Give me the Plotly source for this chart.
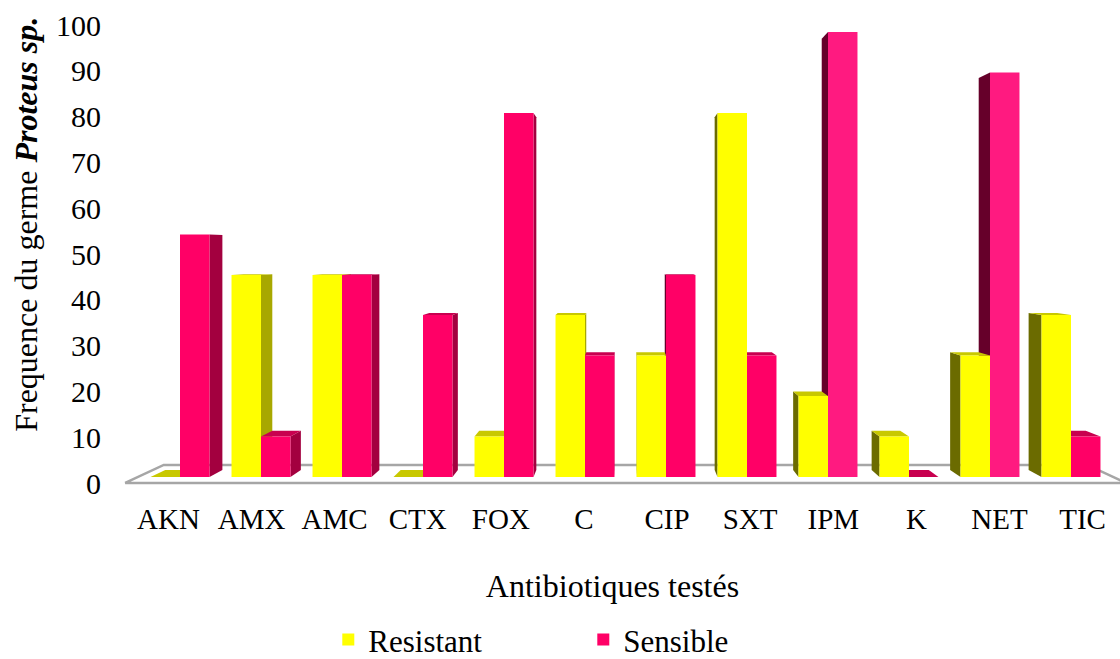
import plotly.graph_objects as go

# Antibiotics tested and frequency (%) of Proteus sp. isolates
antibiotiques = ["AKN", "AMX", "AMC", "CTX", "FOX", "C", "CIP", "SXT", "IPM", "K", "NET", "TIC"]
resistant = [0, 44.4, 44.4, 0, 8.9, 35.6, 26.7, 80.0, 17.8, 8.9, 26.7, 35.6]
sensible = [53.3, 8.9, 44.4, 35.6, 80.0, 26.7, 44.4, 26.7, 97.8, 0, 88.9, 8.9]
y_ticks = list(range(0, 101, 10))

FONT = "Liberation Serif, Times New Roman, serif"

# --- pseudo-3D projection (perspective towards a vanishing point) ---
n = len(antibiotiques)
VX, VY = (n - 1) / 2, 50.0      # vanishing point in data units
BAR_DEPTH = 0.969                # scale of the back face of each bar
FLOOR_FRONT, FLOOR_BACK = 1.026, 0.947
FLOOR_X0, FLOOR_X1 = -0.52, n - 1 + 0.52
BAR_W = 0.364

def proj(x, y, s):
    return VX + s * (x - VX), VY + s * (y - VY)

def path(points):
    return "M " + " L ".join(f"{x:.4f},{y:.4f}" for x, y in points) + " Z"

# face colours: front, right-facing side, left-facing side, top
STYLE = {
    "Resistant": dict(front="#FFFF00", right="#A8A800", left="#6B6B00", top="#C8C800"),
    "Sensible": dict(front="#FF0066", right="#A3003F", left="#66002A", top="#C8004F"),
}
sens_colors = ["#FF0066"] * n
for k in (8, 10):
    sens_colors[k] = "#FF1A80"

shapes = []
# floor
floor = [proj(FLOOR_X0, 0, FLOOR_FRONT), proj(FLOOR_X1, 0, FLOOR_FRONT),
         proj(FLOOR_X1, 0, FLOOR_BACK), proj(FLOOR_X0, 0, FLOOR_BACK)]
shapes.append(dict(type="path", path=path(floor), xref="x", yref="y", layer="below",
                   fillcolor="white", line=dict(color="#A6A6A6", width=2.5)))

# side and top faces, painted from the outside towards the vanishing point
boxes = []
for i in range(n):
    boxes.append((i - BAR_W, i, resistant[i], "Resistant"))
    boxes.append((i, i + BAR_W, sensible[i], "Sensible"))
boxes.sort(key=lambda b: -abs((b[0] + b[1]) / 2 - VX))

for x0, x1, h, name in boxes:
    st = STYLE[name]
    if x1 <= VX:
        side = [(x1, 0), (x1, h), proj(x1, h, BAR_DEPTH), proj(x1, 0, BAR_DEPTH)]
        shapes.append(dict(type="path", path=path(side), xref="x", yref="y", layer="below",
                           fillcolor=st["right"], line=dict(width=0)))
    elif x0 >= VX:
        side = [(x0, 0), (x0, h), proj(x0, h, BAR_DEPTH), proj(x0, 0, BAR_DEPTH)]
        shapes.append(dict(type="path", path=path(side), xref="x", yref="y", layer="below",
                           fillcolor=st["left"], line=dict(width=0)))
    if h < VY:
        top = [(x0, h), (x1, h), proj(x1, h, BAR_DEPTH), proj(x0, h, BAR_DEPTH)]
        shapes.append(dict(type="path", path=path(top), xref="x", yref="y", layer="below",
                           fillcolor=st["top"], line=dict(width=0)))

positions = list(range(n))
fig = go.Figure()
fig.add_trace(go.Bar(name="Resistant", x=positions, y=resistant, width=BAR_W, offset=-BAR_W,
                     marker=dict(color=STYLE["Resistant"]["front"], line=dict(width=0))))
fig.add_trace(go.Bar(name="Sensible", x=positions, y=sensible, width=BAR_W, offset=0,
                     marker=dict(color=sens_colors, line=dict(width=0))))
# helper traces carrying the labelled category / value axes
fig.add_trace(go.Scatter(x=[0], y=[0], xaxis="x2", yaxis="y", mode="markers",
                         marker=dict(opacity=0), showlegend=False, hoverinfo="skip"))
fig.add_trace(go.Scatter(x=[0], y=[0], xaxis="x", yaxis="y2", mode="markers",
                         marker=dict(opacity=0), showlegend=False, hoverinfo="skip"))

# pixel layout of the plotting area
L, R, T, B = 105, 0, 20, 169
W_PX, H_PX = 1120 - L - R, 659 - T - B
PX_X = 81.0      # px per category
PX_Y = 4.55      # px per percent (bar fronts)
x_lo = -(180 - L) / PX_X
x_hi = x_lo + W_PX / PX_X
y_lo = -((659 - B) - 477) / PX_Y
y_hi = y_lo + H_PX / PX_Y
# category labels sit on the front edge of the floor
x2_lo = VX + (x_lo - VX) / FLOOR_FRONT
x2_hi = VX + (x_hi - VX) / FLOOR_FRONT
# value labels
PX_Y2 = 4.58
y2_lo = -((659 - B) - 483) / PX_Y2
y2_hi = y2_lo + H_PX / PX_Y2

fig.update_layout(
    width=1120, height=659,
    margin=dict(l=L, r=R, t=T, b=B, autoexpand=False),
    paper_bgcolor="white", plot_bgcolor="rgba(0,0,0,0)",
    font=dict(family=FONT, color="black", size=30),
    barmode="overlay",
    shapes=shapes,
    showlegend=True,
    legend=dict(orientation="h", x=0.22, xanchor="left", y=-0.319, yanchor="middle",
                font=dict(size=31, family=FONT, color="black"), entrywidth=210,
                bgcolor="rgba(0,0,0,0)"),
    xaxis=dict(range=[x_lo, x_hi], visible=False, fixedrange=True),
    yaxis=dict(range=[y_lo, y_hi], visible=False, fixedrange=True),
    xaxis2=dict(range=[x2_lo, x2_hi], overlaying="x", anchor="y", side="bottom",
                tickvals=positions, ticktext=antibiotiques, showline=False, showgrid=False,
                zeroline=False, ticks="", ticklabelstandoff=9, automargin=False,
                tickfont=dict(size=29, family=FONT, color="black"),
                title=dict(text="Antibiotiques testés",
                           font=dict(size=32, family=FONT, color="black"), standoff=40)),
    yaxis2=dict(range=[y2_lo, y2_hi], overlaying="y", anchor="x", side="left",
                tickvals=y_ticks, showline=False, showgrid=False, zeroline=False, ticks="",
                automargin=False, ticklabelstandoff=3,
                tickfont=dict(size=30, family=FONT, color="black")),
    annotations=[dict(text="Frequence du germe <b><i>Proteus sp.</i></b>",
                      textangle=-90, xref="paper", yref="paper",
                      x=-0.078, y=0.566, xanchor="center", yanchor="middle",
                      showarrow=False, font=dict(size=32, family=FONT, color="black"))],
)

fig.write_html("out.html")
